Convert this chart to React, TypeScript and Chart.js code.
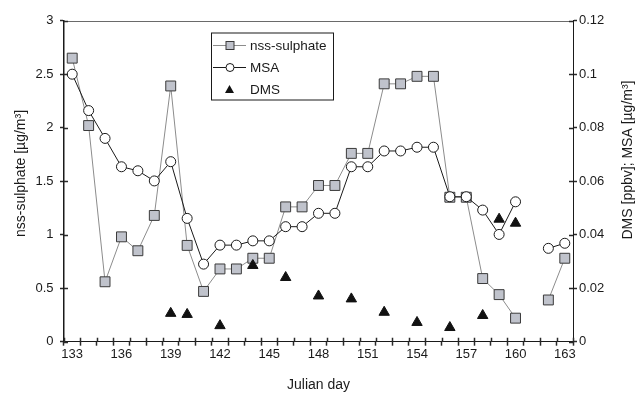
import React, { useEffect, useRef } from "react";
import { Chart, registerables } from "chart.js";

Chart.register(...registerables);

// Julian days of the cruise
const days: number[] = [
  133, 134, 135, 136, 137, 138, 139, 140, 141, 142, 143, 144, 145, 146, 147, 148,
  149, 150, 151, 152, 153, 154, 155, 156, 157, 158, 159, 160, 161, 162, 163,
];

// nss-sulphate [µg/m³] (left axis)
const nssSulphate: (number | null)[] = [
  2.65, 2.02, 0.56, 0.98, 0.85, 1.18, 2.39, 0.9, 0.47, 0.68, 0.68, 0.78, 0.78, 1.26, 1.26, 1.46,
  1.46, 1.76, 1.76, 2.41, 2.41, 2.48, 2.48, 1.35, 1.35, 0.59, 0.44, 0.22, null, 0.39, 0.78,
];

// MSA [µg/m³] (right axis)
const msa: (number | null)[] = [
  0.1, 0.0864, 0.076, 0.0654, 0.0639, 0.0601, 0.0673, 0.0461, 0.029, 0.0361, 0.0361, 0.0377,
  0.0377, 0.043, 0.043, 0.048, 0.048, 0.0654, 0.0654, 0.0713, 0.0713, 0.0727, 0.0727, 0.0542,
  0.0542, 0.0492, 0.0401, 0.0523, null, 0.0349, 0.0368,
];

// DMS [ppbv] (right axis)
const dms: (number | null)[] = [
  null, null, null, null, null, null, 0.0106, 0.0102, null, 0.006, null, 0.0285, null, 0.024,
  null, 0.0171, null, 0.016, null, 0.011, null, 0.0072, null, 0.0053, null, 0.0098, 0.0458,
  0.0443, null, null, null,
];

const FONT = "'Liberation Sans', Arial, sans-serif";
const INK = "#1a1a1a";
const SQ_FILL = "#c0c3cc";
const SQ_EDGE = "#3a3a3a";
const SULPHATE_LINE = "#8c8c8c";
const TICK = 4;
const TICK_INK = "#2a2a2a";
const TICK_W = 1.5;

const fmt = (v: number) => String(Number(Number(v).toFixed(3)));

// Inner halves of the crossing tick marks, top frame, rotated y titles and the boxed legend
const decorations = {
  id: "decorations",
  afterDraw(chart: any) {
    const ctx: CanvasRenderingContext2D = chart.ctx;
    const { left, right, top, bottom } = chart.chartArea;
    const { x: xs, y: ys, y2: ys2 } = chart.scales;
    ctx.save();

    // top frame
    ctx.strokeStyle = "#6a6a6a";
    ctx.lineWidth = 1;
    ctx.beginPath();
    ctx.moveTo(left, Math.round(top) + 0.5);
    ctx.lineTo(right, Math.round(top) + 0.5);
    ctx.stroke();

    // inner tick halves
    ctx.strokeStyle = TICK_INK;
    ctx.lineWidth = TICK_W;
    ctx.beginPath();
    for (const tk of ys.ticks) {
      const y = Math.round(ys.getPixelForValue(tk.value)) + 0.5;
      ctx.moveTo(left, y);
      ctx.lineTo(left + TICK, y);
    }
    for (const tk of ys2.ticks) {
      const y = Math.round(ys2.getPixelForValue(tk.value)) + 0.5;
      ctx.moveTo(right - TICK, y);
      ctx.lineTo(right, y);
    }
    const bounds: number[] = [xs.left];
    for (let i = 0; i < days.length - 1; i++) {
      bounds.push((xs.getPixelForValue(i) + xs.getPixelForValue(i + 1)) / 2);
    }
    bounds.push(xs.right);
    for (const bx of bounds) {
      const x = Math.round(bx) + 0.5;
      ctx.moveTo(x, bottom - TICK);
      ctx.lineTo(x, bottom);
    }
    ctx.stroke();
    ctx.lineWidth = 1;

    // y titles
    ctx.fillStyle = INK;
    ctx.font = `14px ${FONT}`;
    ctx.textAlign = "center";
    ctx.textBaseline = "middle";
    ctx.save();
    ctx.translate(21, 173.5);
    ctx.rotate(-Math.PI / 2);
    ctx.fillText("nss-sulphate [µg/m³]", 0, 0);
    ctx.restore();
    ctx.save();
    ctx.translate(628, 160);
    ctx.rotate(-Math.PI / 2);
    ctx.fillText("DMS [ppbv]; MSA [µg/m³]", 0, 0);
    ctx.restore();

    // legend
    const bx0 = 211, by0 = 32.5, bw = 122, bh = 67;
    ctx.fillStyle = "#ffffff";
    ctx.fillRect(bx0, by0, bw, bh);
    ctx.strokeStyle = INK;
    ctx.lineWidth = 1;
    ctx.strokeRect(bx0 + 0.5, by0 + 0.5, bw, bh);

    const mx = 230;
    const rows = [45.5, 67.5, 89.5];
    // nss-sulphate
    ctx.strokeStyle = SULPHATE_LINE;
    ctx.beginPath();
    ctx.moveTo(213, rows[0]);
    ctx.lineTo(246, rows[0]);
    ctx.stroke();
    ctx.fillStyle = SQ_FILL;
    ctx.strokeStyle = SQ_EDGE;
    ctx.fillRect(mx - 4, rows[0] - 4, 8, 8);
    ctx.strokeRect(mx - 4, rows[0] - 4, 8, 8);
    // MSA
    ctx.strokeStyle = INK;
    ctx.beginPath();
    ctx.moveTo(213, rows[1]);
    ctx.lineTo(246, rows[1]);
    ctx.stroke();
    ctx.fillStyle = "#ffffff";
    ctx.beginPath();
    ctx.arc(mx, rows[1], 4, 0, Math.PI * 2);
    ctx.fill();
    ctx.stroke();
    // DMS
    ctx.fillStyle = "#111111";
    ctx.beginPath();
    ctx.moveTo(mx - 0.5, rows[2] - 4.5);
    ctx.lineTo(mx + 4, rows[2] + 3.5);
    ctx.lineTo(mx - 5, rows[2] + 3.5);
    ctx.closePath();
    ctx.fill();

    ctx.fillStyle = INK;
    ctx.font = `13.5px ${FONT}`;
    ctx.textAlign = "left";
    ctx.textBaseline = "middle";
    ctx.fillText("nss-sulphate", 250, rows[0] + 0.5);
    ctx.fillText("MSA", 250, rows[1] + 0.5);
    ctx.fillText("DMS", 250, rows[2] + 0.5);

    ctx.restore();
  },
};

// Outer tick marks come from the scales' own grid (drawn outside the plot only)
const outerTicks = {
  display: true,
  drawOnChartArea: false,
  drawTicks: true,
  tickLength: TICK,
  tickColor: TICK_INK,
  tickWidth: TICK_W,
  color: TICK_INK,
};

export default function App() {
  const canvasRef = useRef<HTMLCanvasElement | null>(null);

  useEffect(() => {
    document.body.style.margin = "0";
    const canvas = canvasRef.current;
    if (!canvas) return;
    Chart.defaults.font.family = FONT;
    Chart.defaults.color = INK;

    const chart = new Chart(canvas, {
      type: "line",
      data: {
        labels: days.map(String),
        datasets: [
          {
            label: "nss-sulphate",
            data: nssSulphate,
            yAxisID: "y",
            order: 3,
            borderColor: SULPHATE_LINE,
            borderWidth: 1,
            pointStyle: "rect",
            pointRadius: 7,
            pointBackgroundColor: SQ_FILL,
            pointBorderColor: SQ_EDGE,
            pointBorderWidth: 1,
            spanGaps: false,
            tension: 0,
          },
          {
            label: "MSA",
            data: msa,
            yAxisID: "y2",
            order: 2,
            borderColor: INK,
            borderWidth: 1,
            pointStyle: "circle",
            pointRadius: 5,
            pointBackgroundColor: "#ffffff",
            pointBorderColor: INK,
            pointBorderWidth: 1,
            spanGaps: false,
            tension: 0,
          },
          {
            label: "DMS",
            data: dms,
            yAxisID: "y2",
            order: 1,
            showLine: false,
            pointStyle: "triangle",
            pointRadius: 6,
            pointBackgroundColor: "#111111",
            pointBorderColor: "#111111",
            pointBorderWidth: 1,
          },
        ],
      },
      options: {
        animation: false,
        responsive: true,
        maintainAspectRatio: false,
        layout: { padding: { top: 20.7, left: 0, right: 0, bottom: 0 } },
        plugins: {
          legend: { display: false },
          tooltip: { enabled: false },
        },
        scales: {
          x: {
            type: "category",
            offset: true,
            grid: { ...outerTicks, offset: true },
            border: { display: true, color: INK, width: 1 },
            ticks: {
              autoSkip: false,
              maxRotation: 0,
              padding: 1,
              font: { size: 13 },
              color: INK,
              callback: (_v: any, i: number) => ((days[i] - 133) % 3 === 0 ? String(days[i]) : ""),
            },
            title: {
              display: true,
              text: "Julian day",
              font: { size: 14 },
              color: INK,
              padding: { top: 0, bottom: 5.6 },
            },
            afterFit: (s: any) => {
              s.height = 57.3;
            },
          },
          y: {
            type: "linear",
            position: "left",
            min: 0,
            max: 3,
            grid: { ...outerTicks },
            border: { display: true, color: INK, width: 1.5 },
            ticks: {
              stepSize: 0.5,
              padding: 6.5,
              font: { size: 13 },
              color: INK,
              callback: (v: any) => fmt(v),
            },
            afterFit: (s: any) => {
              s.width = 64;
            },
          },
          y2: {
            type: "linear",
            position: "right",
            min: 0,
            max: 0.12,
            grid: { ...outerTicks },
            border: { display: true, color: INK, width: 1 },
            ticks: {
              stepSize: 0.02,
              padding: 2,
              font: { size: 13 },
              color: INK,
              callback: (v: any) => fmt(v),
            },
            afterFit: (s: any) => {
              s.width = 64;
            },
          },
        },
      },
      plugins: [decorations],
    });

    return () => chart.destroy();
  }, []);

  return (
    <div style={{ position: "absolute", left: 0, top: 0, width: 637, height: 399 }}>
      <canvas ref={canvasRef} />
    </div>
  );
}
